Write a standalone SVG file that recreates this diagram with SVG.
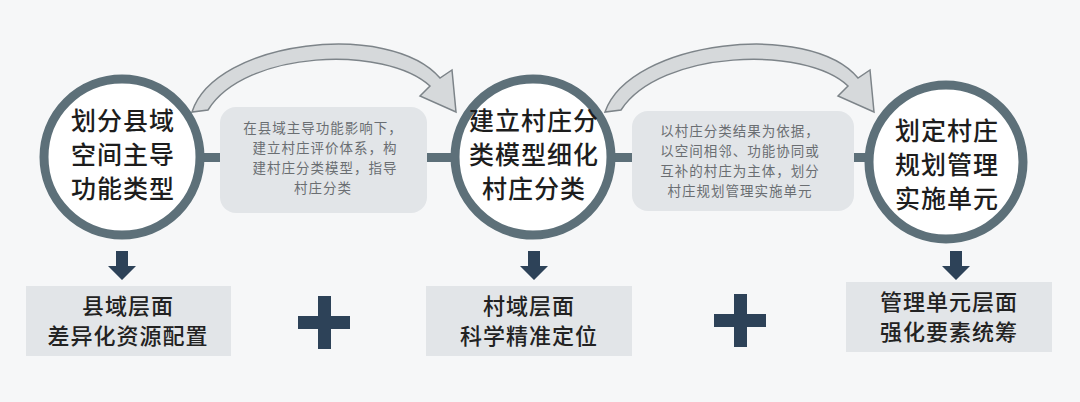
<svg xmlns="http://www.w3.org/2000/svg" width="1080" height="402" viewBox="0 0 1080 402">
<style>
.circ{fill:#fff;stroke:#5d7079;stroke-width:9}
.cap{fill:#e2e5e8}
.ct{font-family:"Noto Sans CJK SC",sans-serif;font-size:25px;font-weight:500;fill:#1d1d1d;text-anchor:middle;letter-spacing:1px}
.nt{font-family:"Noto Sans CJK SC",sans-serif;font-size:13.5px;fill:#6a6e72;text-anchor:middle;letter-spacing:1px}
.bt{font-family:"Noto Sans CJK SC",sans-serif;font-size:22px;font-weight:500;fill:#222;text-anchor:middle;letter-spacing:1px}
.dark{fill:#2d4258}
.carrow{fill:#d6d9db;stroke:#7d8489;stroke-width:1.5}
</style>
<rect width="1080" height="402" fill="#f6f7f8"/>
<g id="connectors">
<rect x="190" y="153" width="700" height="9" fill="#5d7079"/>
<path class="carrow" d="M192,112 C215,40 390,20 440,78 L452,70 L456,112 L420,96 L430,86 C385,45 245,50 208,110 Z"/>
<path class="carrow" d="M605,112 C630,40 810,20 858,78 L870,70 L874,112 L838,96 L848,86 C805,45 660,50 621,110 Z"/>
<path class="dark" d="M116,251 h12 v15 h8 l-14,14 l-14,-14 h8 z"/>
<path class="dark" d="M528,251 h12 v15 h8 l-14,14 l-14,-14 h8 z"/>
<path class="dark" d="M950,251 h12 v15 h8 l-14,14 l-14,-14 h8 z"/>
</g>
<g id="note1"><rect class="cap" x="220" y="107" width="207" height="106" rx="16"/>
<text class="nt" x="323" y="133">在县域主导功能影响下，</text>
<text class="nt" x="325" y="153">建立村庄评价体系，构</text>
<text class="nt" x="325" y="173">建村庄分类模型，指导</text>
<text class="nt" x="323" y="193">村庄分类</text></g>
<g id="note2"><rect class="cap" x="632" y="111" width="222" height="100" rx="16"/>
<text class="nt" x="740" y="136">以村庄分类结果为依据，</text>
<text class="nt" x="740" y="156">以空间相邻、功能协同或</text>
<text class="nt" x="740" y="176">互补的村庄为主体，划分</text>
<text class="nt" x="740" y="196">村庄规划管理实施单元</text></g>
<g id="c1"><circle class="circ" cx="122" cy="157" r="78"/>
<text class="ct" x="123" y="130">划分县域</text><text class="ct" x="123" y="164">空间主导</text><text class="ct" x="123" y="198">功能类型</text></g>
<g id="c2"><circle class="circ" cx="533" cy="157" r="78"/>
<text class="ct" x="534" y="130">建立村庄分</text><text class="ct" x="534" y="164">类模型细化</text><text class="ct" x="534" y="198">村庄分类</text></g>
<g id="c3"><circle class="circ" cx="946" cy="162" r="77"/>
<text class="ct" x="947" y="140">划定村庄</text><text class="ct" x="947" y="174">规划管理</text><text class="ct" x="947" y="208">实施单元</text></g>
<g id="b1"><rect class="cap" x="26" y="286" width="205" height="70"/>
<text class="bt" x="128" y="314">县域层面</text><text class="bt" x="128" y="344">差异化资源配置</text></g>
<g id="b2"><rect class="cap" x="426" y="286" width="206" height="70"/>
<text class="bt" x="529" y="314">村域层面</text><text class="bt" x="529" y="344">科学精准定位</text></g>
<g id="b3"><rect class="cap" x="846" y="282" width="206" height="70"/>
<text class="bt" x="949" y="310">管理单元层面</text><text class="bt" x="949" y="340">强化要素统筹</text></g>
<g id="plus1" class="dark"><rect x="298" y="316" width="52" height="13"/><rect x="318" y="296" width="13" height="53"/></g>
<g id="plus2" class="dark"><rect x="714" y="314" width="52" height="13"/><rect x="734" y="294" width="13" height="53"/></g>
</svg>
